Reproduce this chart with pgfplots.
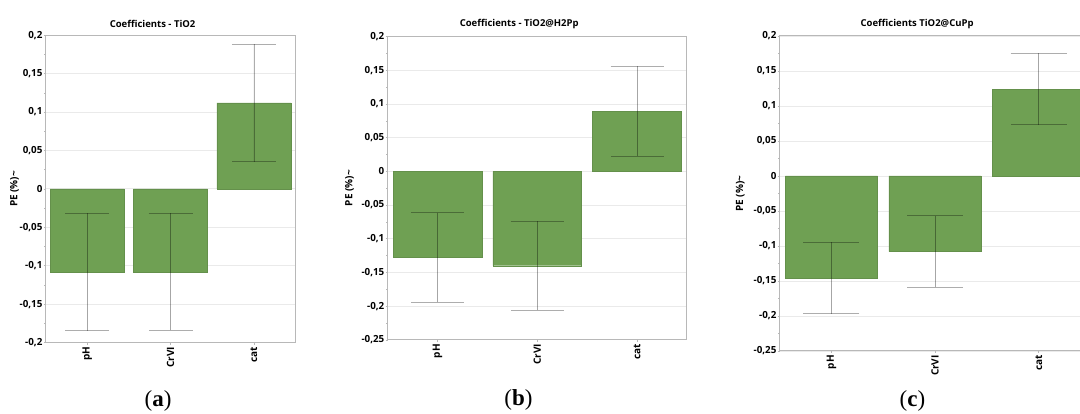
\documentclass[border=0pt]{standalone}
\usepackage{fontspec}
\setmainfont{Open Sans}
\newfontfamily\capfont{Liberation Serif}
\usepackage{pgfplots}
\pgfplotsset{compat=1.18}
\definecolor{barg}{RGB}{111,160,83}
\definecolor{frame}{RGB}{184,184,184}
\definecolor{gridc}{RGB}{234,234,234}
\pgfplotsset{
  coef/.style={
    scale only axis,
    anchor=south west,
    ybar, bar width=0.89,
    xmin=-0.5, xmax=2.5,
    xtick={0,1,2}, xticklabels={pH,CrVI,cat},
    xtick pos=bottom, ytick pos=left,
    xticklabel style={rotate=90, anchor=east, inner sep=2pt, font=\bfseries\fontsize{10}{11}\selectfont},
    ytick distance=0.05, minor y tick num=1,
    yticklabel style={font=\bfseries\fontsize{9.8}{11}\selectfont, inner sep=1pt,
      /pgf/number format/use comma, /pgf/number format/fixed,
      /pgf/number format/precision=2, /pgf/number format/assume math mode=true},
    scaled y ticks=false,
    tick align=outside,
    major tick length=2pt, minor tick length=1.5pt,
    tick style={frame, line width=0.6pt},
    axis line style={frame, line width=1pt},
    ymajorgrids, major grid style={gridc, line width=0.8pt},
    title style={font=\bfseries\fontsize{9.5}{11}\selectfont, xshift=-18pt, yshift=-2pt},
    ylabel={PE (\%)\textasciitilde},
    error bars/y dir=both, error bars/y explicit,
    error bars/error bar style={black, opacity=0.32, line width=0.8pt},
  },
}
\begin{document}
\begin{tikzpicture}[x=1pt,y=1pt]
\begin{scope}
\clip (0,0) rectangle (1080,414);
% (a)
\begin{axis}[coef, at={(54.7,93)}, width=250pt, height=307.3pt,
  ymin=-0.2, ymax=0.2, title={Coefficients - TiO2},
  ylabel style={at={(axis description cs:0,0.5)}, anchor=center, yshift=31pt, font=\bfseries\fontsize{10}{11}\selectfont},
  error bars/error mark options={rotate=90, mark size=22pt, black, opacity=0.32, line width=0.8pt}]
\addplot[fill=barg, draw=barg!90!black, line width=0.4pt]
  coordinates {(0,-0.108) +- (0,0.0765) (1,-0.108) +- (0,0.076) (2,0.112) +- (0,0.0765)};
\end{axis}
% (b)
\begin{axis}[coef, at={(388.3,110)}, width=299.4pt, height=303.3pt,
  ymin=-0.25, ymax=0.2, title={Coefficients - TiO2@H2Pp},
  ylabel style={at={(axis description cs:0,0.5)}, anchor=center, yshift=38pt, font=\bfseries\fontsize{10}{11}\selectfont},
  error bars/error mark options={rotate=90, mark size=26.5pt, black, opacity=0.32, line width=0.8pt}]
\addplot[fill=barg, draw=barg!90!black, line width=0.4pt]
  coordinates {(0,-0.1276) +- (0,0.0664) (1,-0.140) +- (0,0.066) (2,0.0895) +- (0,0.0667)};
\end{axis}
% (c)
\begin{axis}[coef, at={(752,90)}, width=311pt, height=315pt,
  ymin=-0.25, ymax=0.2, title={Coefficients TiO2@CuPp},
  ylabel style={at={(axis description cs:0,0.5)}, anchor=center, yshift=39.3pt, font=\bfseries\fontsize{10}{11}\selectfont},
  error bars/error mark options={rotate=90, mark size=28pt, black, opacity=0.32, line width=0.8pt}]
\addplot[fill=barg, draw=barg!90!black, line width=0.4pt]
  coordinates {(0,-0.1455) +- (0,0.051) (1,-0.108) +- (0,0.051) (2,0.124) +- (0,0.051)};
\end{axis}
\node[font=\capfont\fontsize{23}{25}\selectfont] at (158,13) {(\textbf{a})};
\node[font=\capfont\fontsize{23}{25}\selectfont] at (518.5,14) {(\textbf{b})};
\node[font=\capfont\fontsize{23}{25}\selectfont] at (912.5,13) {(\textbf{c})};
\end{scope}
\pgfresetboundingbox
\useasboundingbox (0,0) rectangle (1080,414);
\end{tikzpicture}
\end{document}
